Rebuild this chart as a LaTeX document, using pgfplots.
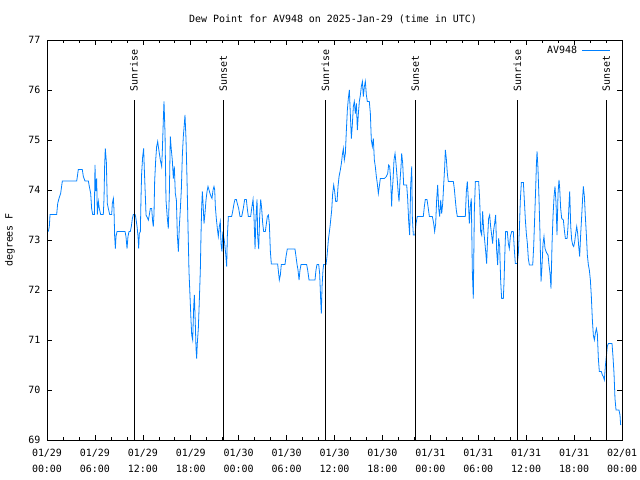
\documentclass[border=0pt]{standalone}
\usepackage{pgfplots}
\pgfplotsset{compat=1.18}
\usepackage{fontspec}
\setmainfont{DejaVu Sans Mono}
\setmonofont{DejaVu Sans Mono}
\definecolor{dewblue}{RGB}{0,128,255}
\begin{document}
\begin{tikzpicture}
\path[use as bounding box] (0,0) rectangle (640bp,480bp);
\node[font=\fontsize{10}{12}\selectfont] at (333bp,461bp) {Dew Point for AV948 on 2025-Jan-29 (time in UTC)};
\node[font=\fontsize{10}{12}\selectfont, rotate=90] at (10bp,240bp) {degrees F};
\begin{axis}[
  at={(47bp,40bp)}, anchor=south west,
  scale only axis, width=575bp, height=400bp,
  xmin=0, xmax=72, ymin=69, ymax=77,
  axis line style={black, line width=0.8bp},
  tick align=inside,
  major tick length=5bp, minor tick length=3bp,
  every tick/.style={black, line width=0.6bp},
  xtick={0,6,...,72},
  minor xtick={2,4,8,10,14,16,20,22,26,28,32,34,38,40,44,46,50,52,56,58,62,64,68,70},
  xticklabels={{01/29\\00:00},{01/29\\06:00},{01/29\\12:00},{01/29\\18:00},{01/30\\00:00},{01/30\\06:00},{01/30\\12:00},{01/30\\18:00},{01/31\\00:00},{01/31\\06:00},{01/31\\12:00},{01/31\\18:00},{02/01\\00:00}},
  xticklabel style={align=center, font=\fontsize{10}{16}\selectfont, yshift=-6bp},
  ytick={69,70,...,77},
  yticklabel style={font=\fontsize{10}{12}\selectfont, xshift=-3bp},
  /pgf/number format/assume math mode=true,
  legend style={at={(1,1)}, anchor=north east, draw=none, fill=none, xshift=-8bp, yshift=-2bp, font=\fontsize{10}{12}\selectfont, /tikz/every odd column/.append style={column sep=3bp}},
  legend plot pos=right,
  legend image code/.code={\draw[#1] (0bp,0bp) -- (28bp,0bp);},
  clip=false,
]
\addplot[color=dewblue, line width=0.8bp] table {
h v
0.17 73.17
0.29 73.27
0.38 73.51
1.21 73.51
1.34 73.73
1.50 73.83
1.71 73.93
1.92 74.18
3.72 74.18
3.80 74.27
3.92 74.41
4.42 74.41
4.55 74.27
4.76 74.18
5.18 74.18
5.30 74.07
5.47 73.93
5.59 73.63
5.72 73.51
5.93 73.51
6.01 74.50
6.09 73.98
6.22 74.23
6.30 73.51
6.43 73.77
6.55 73.63
6.72 73.51
7.05 73.51
7.14 73.83
7.22 74.50
7.30 74.83
7.43 74.57
7.55 73.73
7.68 73.63
7.85 73.51
8.10 73.51
8.18 73.73
8.31 73.83
8.39 73.60
8.47 73.08
8.56 72.83
8.64 73.07
8.77 73.17
9.77 73.17
9.89 73.07
10.02 72.83
10.14 73.07
10.27 73.17
10.43 73.17
10.56 73.27
10.69 73.43
10.81 73.51
11.02 73.51
11.10 73.47
11.27 73.28
11.40 73.07
11.48 72.83
11.56 73.13
11.69 73.17
11.77 73.83
11.85 74.33
11.98 74.67
12.10 74.83
12.19 74.40
12.31 73.90
12.40 73.50
12.56 73.45
12.69 73.40
12.81 73.50
12.94 73.63
13.11 73.63
13.23 73.37
13.31 73.27
13.40 73.53
13.48 74.17
13.61 74.60
13.73 74.87
13.86 74.97
13.94 74.87
14.07 74.73
14.19 74.60
14.36 74.47
14.44 74.77
14.57 75.42
14.65 75.77
14.78 75.13
14.90 73.80
15.07 73.43
15.19 73.23
15.32 73.93
15.44 75.07
15.57 74.80
15.69 74.60
15.82 74.23
15.94 74.47
16.07 73.93
16.20 73.80
16.32 73.10
16.45 72.77
16.57 73.27
16.70 73.63
16.82 74.00
16.95 74.70
17.07 75.07
17.20 75.33
17.28 75.50
17.41 75.00
17.53 74.23
17.66 73.23
17.78 72.37
17.91 71.87
18.03 71.40
18.12 71.10
18.24 71.00
18.37 71.67
18.45 71.90
18.57 71.33
18.66 70.83
18.74 70.63
18.82 70.93
18.95 71.23
19.07 71.77
19.20 72.40
19.28 73.07
19.37 73.67
19.45 73.97
19.53 73.77
19.66 73.33
19.78 73.53
19.91 73.80
20.04 73.97
20.16 74.07
20.29 74.00
20.41 73.93
20.54 73.87
20.66 73.83
20.79 74.00
20.91 74.07
21.00 74.00
21.08 73.67
21.20 73.43
21.33 73.23
21.45 73.07
21.58 73.27
21.70 73.37
21.79 72.93
21.91 72.77
22.00 73.13
22.12 73.07
22.25 72.93
22.37 72.73
22.50 72.47
22.58 73.07
22.71 73.47
23.12 73.47
23.25 73.57
23.42 73.73
23.54 73.81
23.71 73.81
23.83 73.73
24.00 73.63
24.17 73.47
24.38 73.47
24.58 73.63
24.75 73.81
24.96 73.81
25.08 73.63
25.21 73.47
25.50 73.47
25.63 73.63
25.80 73.81
25.92 73.47
26.05 72.82
26.17 73.47
26.30 73.81
26.38 73.07
26.51 72.82
26.63 73.47
26.76 73.81
26.88 73.63
27.01 73.33
27.13 73.17
27.34 73.17
27.47 73.33
27.59 73.47
27.72 73.50
27.84 73.33
27.97 72.77
28.09 72.52
28.88 72.52
28.96 72.40
29.09 72.20
29.22 72.30
29.34 72.51
29.80 72.51
29.93 72.67
30.09 72.82
31.05 72.82
31.18 72.67
31.31 72.51
31.43 72.40
31.56 72.20
31.68 72.40
31.81 72.51
32.51 72.51
32.64 72.40
32.81 72.20
33.56 72.20
33.68 72.40
33.81 72.51
34.02 72.51
34.14 72.33
34.27 71.80
34.35 71.53
34.44 72.07
34.56 72.40
34.64 72.51
34.94 72.51
35.06 72.67
35.23 73.00
35.44 73.27
35.65 73.60
35.77 73.93
35.90 74.10
36.02 73.97
36.15 73.77
36.32 73.77
36.44 74.07
36.57 74.27
36.73 74.40
36.86 74.53
36.98 74.70
37.11 74.83
37.23 74.60
37.36 74.73
37.48 75.17
37.61 75.60
37.73 75.83
37.86 76.00
37.98 75.53
38.11 75.03
38.23 75.30
38.36 75.67
38.48 75.77
38.61 75.53
38.74 75.73
38.86 75.20
38.99 75.53
39.11 75.77
39.24 75.90
39.36 76.07
39.49 76.17
39.61 75.87
39.74 76.07
39.86 76.17
39.99 75.90
40.11 75.77
40.36 75.77
40.49 75.53
40.61 75.00
40.74 74.87
40.86 75.03
40.99 74.60
41.11 74.47
41.24 74.27
41.36 74.13
41.49 73.93
41.61 74.07
41.74 74.23
42.24 74.23
42.49 74.27
42.66 74.33
42.78 74.50
42.91 74.47
43.03 74.20
43.16 73.67
43.20 73.90
43.33 74.20
43.45 74.60
43.58 74.73
43.70 74.53
43.83 74.27
43.95 74.00
44.08 73.77
44.20 74.17
44.33 74.47
44.41 74.73
44.54 74.53
44.66 74.10
45.04 74.10
45.16 73.83
45.29 73.37
45.41 73.10
45.54 74.10
45.67 74.47
45.75 73.43
45.87 73.10
46.08 73.10
46.21 73.33
46.37 73.47
47.12 73.47
47.25 73.67
47.37 73.81
47.58 73.81
47.71 73.67
47.88 73.47
48.25 73.47
48.42 73.33
48.54 73.17
48.67 73.33
48.79 73.80
48.92 74.10
49.05 73.63
49.17 73.47
49.30 73.80
49.42 73.53
49.55 73.73
49.67 74.10
49.80 74.47
49.88 74.80
50.00 74.63
50.13 74.33
50.25 74.17
50.88 74.17
51.00 74.03
51.13 73.80
51.25 73.60
51.38 73.47
52.38 73.47
52.51 73.97
52.63 74.17
52.76 73.80
52.88 73.33
53.01 73.67
53.13 73.83
53.26 72.37
53.38 71.83
53.51 73.57
53.64 74.17
54.05 74.17
54.18 73.80
54.30 73.17
54.43 73.10
54.55 73.57
54.68 73.20
54.80 73.00
54.93 72.77
55.05 72.53
55.18 73.07
55.30 73.43
55.43 73.50
55.55 73.27
55.68 73.10
55.80 72.93
55.93 73.20
56.05 73.33
56.18 73.50
56.30 72.80
56.43 72.50
56.55 73.03
56.68 72.87
56.81 72.17
56.93 71.83
57.14 71.83
57.23 72.17
57.35 72.83
57.43 73.17
57.64 73.17
57.77 72.93
57.89 72.83
58.02 73.07
58.19 73.17
58.39 73.17
58.52 72.80
58.64 72.53
58.89 72.53
59.02 72.73
59.14 73.17
59.27 73.80
59.40 74.15
59.65 74.15
59.77 73.80
59.90 73.40
60.02 73.13
60.15 72.93
60.27 72.63
60.40 72.50
60.82 72.50
60.94 72.87
61.07 73.47
61.19 74.03
61.28 74.50
61.36 74.77
61.48 74.43
61.61 73.80
61.73 73.13
61.86 72.17
61.98 72.47
62.11 72.93
62.23 73.07
62.36 72.83
62.49 72.77
62.61 72.73
62.74 72.70
62.86 72.50
62.99 72.33
63.11 72.03
63.24 72.93
63.36 73.47
63.49 73.87
63.61 74.07
63.74 73.73
63.86 73.10
63.99 73.93
64.11 74.20
64.20 74.03
64.32 73.63
64.45 73.43
64.66 73.40
64.78 73.20
64.91 73.03
65.12 73.03
65.24 73.27
65.37 73.73
65.45 73.97
65.58 73.27
65.70 73.00
65.83 72.90
65.95 72.87
66.08 72.97
66.20 73.13
66.33 73.27
66.45 73.13
66.58 72.87
66.70 72.67
66.83 73.13
66.95 73.47
67.08 73.87
67.16 74.07
67.29 73.87
67.41 73.47
67.54 73.10
67.66 72.70
67.79 72.50
67.91 72.40
68.04 72.20
68.16 71.87
68.29 71.40
68.41 71.10
68.54 71.00
68.66 71.13
68.79 71.23
68.91 71.13
69.04 70.63
69.16 70.37
69.41 70.37
69.54 70.30
69.66 70.27
69.79 70.20
69.91 70.47
70.04 70.67
70.16 70.87
70.29 70.93
70.75 70.93
70.87 70.67
71.00 70.33
71.12 69.83
71.25 69.60
71.62 69.60
71.75 69.50
71.83 69.30
};
\addlegendentry{AV948}
\foreach \t/\lab in {10.89/Sunrise, 22.08/Sunset, 34.85/Sunrise, 46.12/Sunset, 58.89/Sunrise, 70.04/Sunset} {
  \edef\temp{\noexpand\draw[black, line width=0.8bp] (axis cs:\t,69) -- (axis cs:\t,75.8);
    \noexpand\node[rotate=90, anchor=west, inner sep=0pt, font=\noexpand\fontsize{10}{12}\noexpand\selectfont] at (axis cs:\t,75.96) {\lab};}
  \temp
}
\end{axis}
\end{tikzpicture}
\end{document}
